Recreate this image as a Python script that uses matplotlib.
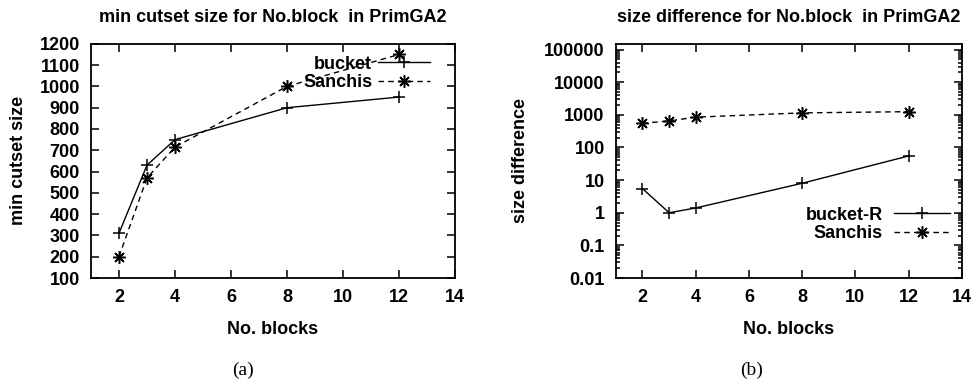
import matplotlib
matplotlib.use("Agg")
import matplotlib.pyplot as plt
from matplotlib.ticker import LogLocator, FixedLocator, NullFormatter

plt.rcParams["font.family"] = ["Liberation Sans", "DejaVu Sans"]
plt.rcParams["font.weight"] = "bold"
plt.rcParams["axes.labelweight"] = "bold"
plt.rcParams["axes.titleweight"] = "bold"

# ---------------------------------------------------------------------------
# Data
# ---------------------------------------------------------------------------
blocks = [2, 3, 4, 8, 12]

# (a) min cutset size
cutset_bucket = [310, 630, 750, 900, 950]
cutset_sanchis = [200, 570, 715, 1000, 1150]

# (b) size difference (log scale)
diff_bucket_r = [5.5, 1.0, 1.4, 8.0, 55.0]
diff_sanchis = [550, 650, 850, 1150, 1250]

x_ticks = [2, 4, 6, 8, 10, 12, 14]
cutset_ticks = list(range(100, 1300, 100))
diff_ticks = [0.01, 0.1, 1, 10, 100, 1000, 10000, 100000]
diff_tick_labels = ["0.01", "0.1", "1", "10", "100", "1000", "10000", "100000"]

FS = 13
STAR = (8, 2, 0)


def style_axes(ax):
    for spine in ax.spines.values():
        spine.set_linewidth(1.3)
    ax.tick_params(which="both", direction="in", top=True, right=True,
                   labelsize=FS, pad=8, width=1.1)
    ax.tick_params(which="major", length=6)
    ax.tick_params(which="minor", length=3)


fig = plt.figure(figsize=(9.76, 3.88), dpi=100)

# ---------------------------------------------------------------------------
# (a)
# ---------------------------------------------------------------------------
ax1 = fig.add_axes([0.0932, 0.2835, 0.373, 0.6035])
ax1.plot(blocks, cutset_bucket, "-", color="black", lw=1.0,
         marker="+", ms=9, mew=1.1, label="bucket")
ax1.plot(blocks, cutset_sanchis, "--", color="black", lw=1.0,
         marker=STAR, ms=9, mew=1.1, dashes=(4, 3), label="Sanchis")
ax1.set_xlim(1, 14)
ax1.set_ylim(100, 1200)
ax1.set_xticks(x_ticks)
ax1.set_yticks(cutset_ticks)
style_axes(ax1)
ax1.set_title("min cutset size for No.block  in PrimGA2", fontsize=FS, pad=16)
ax1.set_xlabel("No. blocks", fontsize=FS, labelpad=11)
ax1.set_ylabel("min cutset size", fontsize=FS, labelpad=9)
ax1.legend(loc="upper right", bbox_to_anchor=(0.931, 0.95), frameon=False,
           markerfirst=False, fontsize=FS, handlelength=2.9,
           handletextpad=0.3, labelspacing=0.1, borderpad=0,
           borderaxespad=0)

# ---------------------------------------------------------------------------
# (b)
# ---------------------------------------------------------------------------
ax2 = fig.add_axes([0.631, 0.2835, 0.3545, 0.6035])
ax2.plot(blocks, diff_bucket_r, "-", color="black", lw=1.0,
         marker="+", ms=9, mew=1.1, label="bucket-R")
ax2.plot(blocks, diff_sanchis, "--", color="black", lw=1.0,
         marker=STAR, ms=9, mew=1.1, dashes=(4, 3), label="Sanchis")
ax2.set_yscale("log")
ax2.set_xlim(1, 14)
ax2.set_ylim(0.01, 1.5e5)
ax2.set_xticks(x_ticks)
ax2.yaxis.set_major_locator(FixedLocator(diff_ticks))
ax2.set_yticklabels(diff_tick_labels)
ax2.yaxis.set_minor_locator(LogLocator(base=10, subs=range(2, 10), numticks=20))
ax2.yaxis.set_minor_formatter(NullFormatter())
style_axes(ax2)
ax2.set_title("size difference for No.block  in PrimGA2", fontsize=FS, pad=16)
ax2.set_xlabel("No. blocks", fontsize=FS, labelpad=11)
ax2.set_ylabel("size difference", fontsize=FS, labelpad=11)
ax2.legend(loc="upper right", bbox_to_anchor=(0.965, 0.305), frameon=False,
           markerfirst=False, fontsize=FS, handlelength=3.1,
           handletextpad=0.6, labelspacing=0.1, borderpad=0,
           borderaxespad=0)

# captions
fig.text(0.249, 0.046, "(a)", family="Liberation Serif", fontsize=14,
         weight="normal", ha="center", va="center")
fig.text(0.770, 0.046, "(b)", family="Liberation Serif", fontsize=14,
         weight="normal", ha="center", va="center")

fig.savefig("out.png", dpi=100)
